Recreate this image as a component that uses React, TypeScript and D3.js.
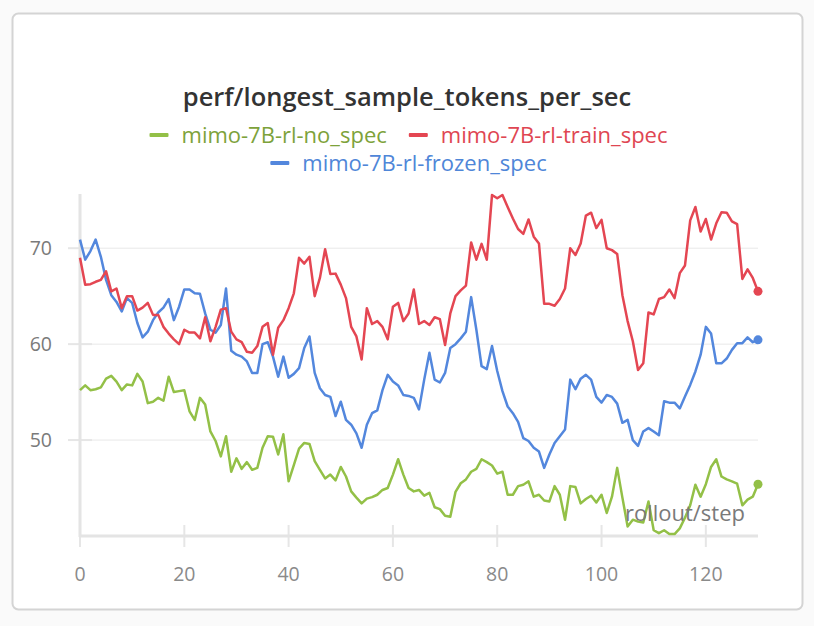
import React, { useEffect, useRef } from 'react';
import * as d3 from 'd3';

// rollout/step 0..130
const noSpec = [
  55.2, 55.7, 55.2, 55.3, 55.5, 56.4, 56.7, 56.1, 55.2, 55.8,
  55.7, 56.9, 56.1, 53.85, 54.0, 54.4, 54.1, 56.6, 55.0, 55.1,
  55.2, 53.0, 52.1, 54.4, 53.7, 50.9, 49.9, 48.3, 50.4, 46.7,
  48.1, 47.0, 47.7, 46.9, 47.1, 49.2, 50.4, 50.35, 48.5, 50.6,
  45.7, 47.4, 49.1, 49.7, 49.6, 47.8, 46.9, 46.0, 46.4, 45.8,
  47.2, 46.2, 44.65, 44.0, 43.4, 43.9, 44.05, 44.3, 44.8, 45.0,
  46.4, 48.0, 46.4, 45.0, 44.65, 44.8, 44.2, 44.5, 43.0, 42.8,
  42.1, 42.0, 44.6, 45.5, 45.9, 46.7, 47.0, 48.0, 47.7, 47.35,
  46.5, 46.7, 44.3, 44.3, 45.2, 45.35, 45.7, 44.1, 44.3, 43.7,
  43.6, 45.2, 44.3, 41.7, 45.2, 45.1, 43.4, 43.85, 44.2, 43.5,
  44.3, 42.4, 44.1, 47.1, 44.0, 41.0, 41.7, 41.5, 41.4, 43.6,
  40.6, 40.3, 40.6, 40.2, 40.2, 40.8, 41.9, 43.2, 45.35, 44.1,
  45.4, 47.2, 48.0, 46.2, 45.9, 45.7, 45.45, 43.2, 43.8, 44.1,
  45.4,
];

const trainSpec = [
  69.0, 66.2, 66.25, 66.5, 66.7, 67.6, 65.5, 65.8, 63.75, 65.0,
  65.0, 63.5, 63.8, 64.3, 63.05, 63.05, 61.8, 61.1, 60.5, 60.0,
  61.5, 61.2, 61.2, 60.6, 62.8, 60.3, 61.8, 63.6, 63.75, 61.3,
  60.5, 60.2, 59.2, 59.1, 59.8, 61.8, 62.2, 58.9, 61.7, 62.5,
  63.75, 65.3, 69.0, 68.4, 69.1, 65.0, 66.9, 69.9, 67.3, 67.35,
  66.2, 64.8, 61.8, 60.8, 58.4, 63.75, 62.1, 62.4, 61.8, 60.5,
  63.9, 64.3, 62.4, 63.2, 65.7, 62.1, 62.4, 62.0, 62.8, 62.6,
  59.9, 63.2, 65.0, 65.6, 66.1, 70.6, 68.8, 70.45, 68.8, 75.55,
  75.2, 75.55, 74.3, 73.1, 72.0, 71.5, 73.0, 71.2, 70.5, 64.2,
  64.2, 64.0, 64.7, 65.8, 70.0, 69.3, 70.5, 73.4, 73.7, 72.1,
  72.95, 70.0, 69.8, 69.4, 65.1, 62.4, 60.3, 57.3, 58.0, 63.3,
  63.1, 64.7, 64.9, 65.7, 64.8, 67.4, 68.2, 72.9, 74.3, 71.75,
  73.05, 70.9, 72.6, 73.75, 73.7, 72.8, 72.5, 66.8, 67.8, 66.9,
  65.5,
];

const frozenSpec = [
  70.9, 68.8, 69.7, 70.9, 69.1, 66.7, 65.1, 64.4, 63.4, 64.8,
  64.3, 62.2, 60.7, 61.3, 62.5, 63.3, 63.8, 64.7, 62.5, 63.9,
  65.7, 65.7, 65.3, 65.25, 63.2, 61.5, 61.2, 62.0, 65.8, 59.3,
  58.9, 58.7, 58.2, 57.0, 57.0, 60.0, 60.2, 58.7, 56.6, 58.7,
  56.5, 56.9, 57.5, 59.6, 60.8, 57.0, 55.4, 54.7, 54.5, 52.5,
  54.0, 52.1, 51.6, 50.7, 49.2, 51.6, 52.8, 53.1, 55.2, 56.8,
  56.1, 55.7, 54.7, 54.6, 54.4, 53.2, 56.3, 59.1, 56.3, 56.0,
  57.0, 59.6, 60.0, 60.6, 61.3, 64.9, 61.5, 57.7, 57.4, 59.8,
  57.2, 55.1, 53.5, 52.8, 51.9, 50.2, 49.9, 49.2, 48.8, 47.1,
  48.5, 49.7, 50.4, 51.1, 56.3, 55.3, 56.4, 56.8, 56.3, 54.5,
  53.9, 54.7, 54.5, 53.8, 51.8, 52.1, 50.0, 49.4, 50.9, 51.25,
  50.9, 50.5, 54.05, 53.9, 53.9, 53.3, 54.55, 55.75, 57.15, 58.9,
  61.8, 61.1, 58.0, 58.0, 58.5, 59.4, 60.1, 60.1, 60.7, 60.2,
  60.45,
];

const seriesNames = ['mimo-7B-rl-no_spec', 'mimo-7B-rl-train_spec', 'mimo-7B-rl-frozen_spec'];
const lineColors = ['#93c047', '#e44652', '#5387dd'];
const labelColors = ['#7da23a', '#df4652', '#4f86d8'];
const yTicks = [50, 60, 70];
const xTicks = [0, 20, 40, 60, 80, 100, 120];

const FONT = '"Open Sans", "Noto Sans", sans-serif';

export default function App() {
  const ref = useRef<SVGSVGElement>(null);

  useEffect(() => {
    if (!ref.current) return;
    const W = 814;
    const H = 626;
    const svg = d3.select(ref.current);
    svg.selectAll('*').remove();
    svg.attr('width', W).attr('height', H);

    svg.append('rect').attr('width', W).attr('height', H).attr('fill', '#fafafa');
    svg.append('rect')
      .attr('x', 12.5).attr('y', 13.5).attr('width', 790).attr('height', 596)
      .attr('rx', 6).attr('fill', '#fff').attr('stroke', '#d4d4d4').attr('stroke-width', 2);

    const x = d3.scaleLinear().domain([0, 130]).range([80, 758]);
    const y = d3.scaleLinear().domain([40, 75.65]).range([536, 194]);

    // title
    svg.append('text')
      .attr('x', 407).attr('y', 106)
      .attr('text-anchor', 'middle')
      .attr('font-family', FONT).attr('font-weight', 600).attr('font-size', 25.5)
      .attr('fill', '#333')
      .text('perf/longest_sample_tokens_per_sec');

    // legend
    const rows = [[0, 1], [2]];
    const rowY = [135, 163];
    rows.forEach((row, r) => {
      const g = svg.append('g');
      let cx = 0;
      row.forEach((si, k) => {
        if (k > 0) cx += 22;
        g.append('rect').attr('x', cx).attr('y', rowY[r] - 2).attr('width', 19).attr('height', 4)
          .attr('rx', 1).attr('fill', lineColors[si]);
        const t = g.append('text')
          .attr('x', cx + 32).attr('y', rowY[r] + 7.5)
          .attr('font-family', FONT).attr('font-size', 22)
          .attr('fill', labelColors[si])
          .text(seriesNames[si]);
        cx += 32 + (t.node() as SVGTextElement).getComputedTextLength();
      });
      g.attr('transform', `translate(${408.5 - cx / 2},0)`);
    });

    // grid + y ticks
    svg.append('g').selectAll('line').data(yTicks).join('line')
      .attr('x1', 80).attr('x2', 758)
      .attr('y1', d => y(d)).attr('y2', d => y(d))
      .attr('stroke', '#e8e8e8').attr('stroke-width', 1);
    svg.append('g').selectAll('line').data(yTicks).join('line')
      .attr('x1', 68).attr('x2', 92)
      .attr('y1', d => y(d)).attr('y2', d => y(d))
      .attr('stroke', '#e6e6e6').attr('stroke-width', 2);
    svg.append('g').selectAll('text').data(yTicks).join('text')
      .attr('x', 52).attr('y', d => y(d) + 7)
      .attr('text-anchor', 'end')
      .attr('font-family', FONT).attr('font-size', 19.5)
      .attr('fill', '#7a7a7a')
      .text(d => d);

    // x ticks
    svg.append('g').selectAll('line').data(xTicks).join('line')
      .attr('x1', d => x(d)).attr('x2', d => x(d))
      .attr('y1', 525).attr('y2', 547)
      .attr('stroke', '#e6e6e6').attr('stroke-width', 2);
    svg.append('g').selectAll('text').data(xTicks).join('text')
      .attr('x', d => x(d)).attr('y', 581)
      .attr('text-anchor', 'middle')
      .attr('font-family', FONT).attr('font-size', 19.5)
      .attr('fill', '#8a8a8a')
      .text(d => d);

    // axis lines
    svg.append('line').attr('x1', 80).attr('x2', 80).attr('y1', 194).attr('y2', 537)
      .attr('stroke', '#e4e4e4').attr('stroke-width', 3);
    svg.append('line').attr('x1', 79).attr('x2', 758).attr('y1', 536).attr('y2', 536)
      .attr('stroke', '#e4e4e4').attr('stroke-width', 3);

    // lines
    const line = d3.line<number>().x((_, i) => x(i)).y(d => y(d));
    [noSpec, frozenSpec, trainSpec].forEach((data) => {
      const idx = data === noSpec ? 0 : data === trainSpec ? 1 : 2;
      svg.append('path')
        .datum(data)
        .attr('d', line)
        .attr('fill', 'none')
        .attr('stroke', lineColors[idx])
        .attr('stroke-width', 2.5)
        .attr('stroke-linejoin', 'round');
      svg.append('circle')
        .attr('cx', x(data.length - 1)).attr('cy', y(data[data.length - 1]))
        .attr('r', 4.5).attr('fill', lineColors[idx]);
    });

    // x-axis title
    svg.append('text')
      .attr('x', 745).attr('y', 521)
      .attr('text-anchor', 'end')
      .attr('font-family', FONT).attr('font-size', 22)
      .attr('fill', '#7a7a7a')
      .text('rollout/step');
  }, []);

  return (
    <svg ref={ref} style={{ position: 'absolute', left: 0, top: 0 }}></svg>
  );
}
